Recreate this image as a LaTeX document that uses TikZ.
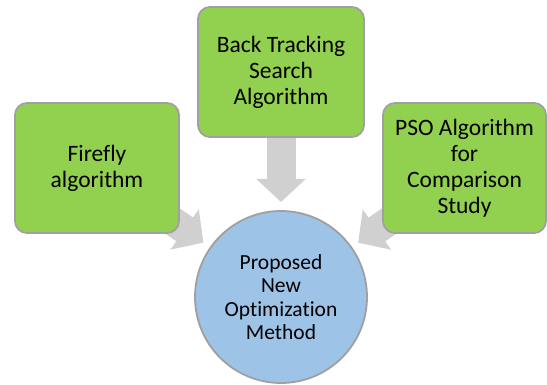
\documentclass[tikz,border=0pt]{standalone}
\usepackage{fontspec}
\setmainfont{Carlito}[Ligatures=NoCommon]
\usetikzlibrary{arrows.meta,calc}
\definecolor{boxgreen}{HTML}{92D050}
\definecolor{circblue}{HTML}{9DC3E6}
\definecolor{bordergray}{HTML}{A0A0A0}
\definecolor{arrowgray}{HTML}{D0D0D0}
\tikzset{
  greenbox/.style={draw=bordergray, line width=1.8pt, fill=boxgreen, rounded corners=12pt,
    align=center, inner sep=0pt, font=\fontsize{23.5}{26}\selectfont},
  circnode/.style={draw=bordergray, line width=1.8pt, fill=circblue, circle,
    align=center, inner sep=0pt, font=\fontsize{21.5}{23.3}\selectfont},
  fatarrow/.style={draw=arrowgray, line width=29pt,
    -{Triangle[length=23pt,width=48pt,fill=arrowgray]}}
}
\begin{document}
\begin{tikzpicture}[x=1pt,y=-1pt]
\useasboundingbox (0,0) rectangle (547,385);
\coordinate (ffc) at (97,168);
\coordinate (btc) at (281,72);
\coordinate (psc) at (464.5,168);
\coordinate (pnc) at (281,297);
% arrows behind
\draw[fatarrow] (ffc) -- ($(ffc)!130pt!(pnc)$);
\draw[fatarrow] (btc) -- ($(btc)!130pt!(pnc)$);
\draw[fatarrow] (psc) -- ($(psc)!130pt!(pnc)$);
% boxes
\node[greenbox, minimum width=164pt, minimum height=130pt] (ff) at (ffc) {Firefly\\algorithm};
\node[greenbox, minimum width=166pt, minimum height=130pt] (bt) at (btc) {Back Tracking\\Search\\Algorithm};
\node[greenbox, minimum width=163pt, minimum height=130pt] (ps) at (psc) {PSO Algorithm\\for\\Comparison\\Study};
\node[circnode, minimum size=172pt] (pn) at (pnc) {Proposed\\New\\Optimization\\Method};
\end{tikzpicture}
\end{document}
